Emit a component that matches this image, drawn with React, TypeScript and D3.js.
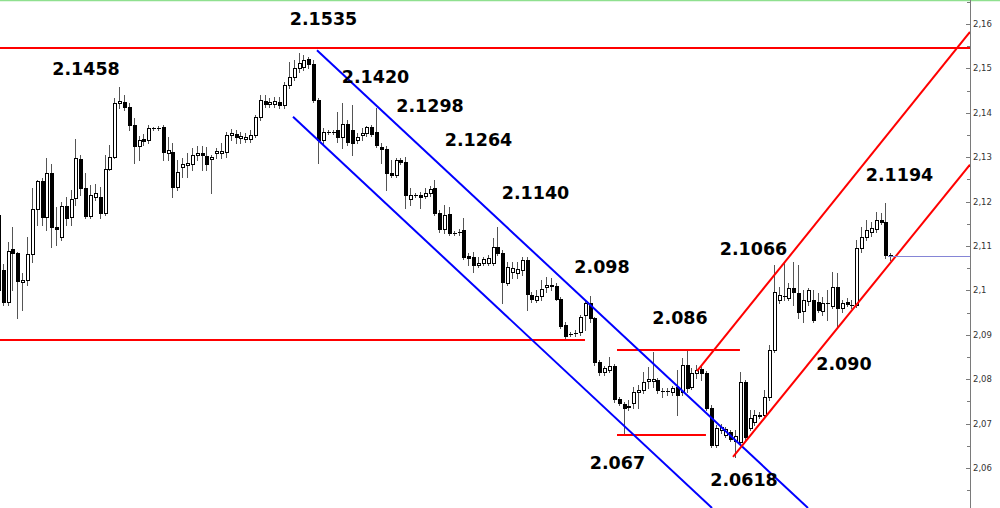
import React from "react";
import * as d3 from "d3";

// ---------- DATA (prices) ----------
const opens = [
  2.1170, 2.1046, 2.0974, 2.1093, 2.1084, 2.1019, 2.1023, 2.1082, 2.1183, 2.1246,
  2.1165, 2.1264, 2.1143, 2.1120, 2.1190, 2.1165, 2.1208, 2.1296, 2.1231, 2.1168,
  2.1210, 2.1210, 2.1174, 2.1273, 2.1300, 2.1422, 2.1424, 2.1413, 2.1372, 2.1325,
  2.1341, 2.1339, 2.1366, 2.1365, 2.1368, 2.1309, 2.1312, 2.1233, 2.1278, 2.1282,
  2.1285, 2.1305, 2.1309, 2.1303, 2.1296, 2.1309, 2.1309, 2.1312, 2.1350, 2.1352,
  2.1343, 2.1341, 2.1341, 2.1350, 2.1390, 2.1426, 2.1420, 2.1420, 2.1424, 2.1417,
  2.1463, 2.1481, 2.1501, 2.1503, 2.1521, 2.1510, 2.1429, 2.1339, 2.1357, 2.1356,
  2.1361, 2.1345, 2.1375, 2.1361, 2.1339, 2.1350, 2.1354, 2.1368, 2.1357, 2.1323,
  2.1318, 2.1264, 2.1260, 2.1294, 2.1289, 2.1206, 2.1215, 2.1215, 2.1213, 2.1219,
  2.1231, 2.1174, 2.1138, 2.1172, 2.1129, 2.1131, 2.1136, 2.1078, 2.1075, 2.1057,
  2.1062, 2.1062, 2.1062, 2.1098, 2.1084, 2.1017, 2.1041, 2.1039, 2.1046, 2.1068,
  2.0990, 2.0978, 2.0987, 2.1008, 2.1012, 2.1010, 2.0981, 2.0922, 2.0902, 2.0903,
  2.0906, 2.0945, 2.0972, 2.0938, 2.0839, 2.0816, 2.0821, 2.0830, 2.0756, 2.0744,
  2.0738, 2.0747, 2.0771, 2.0776, 2.0796, 2.0796, 2.0798, 2.0774, 2.0773, 2.0771,
  2.0783, 2.0771, 2.0832, 2.0783, 2.0814, 2.0823, 2.0814, 2.0735, 2.0652, 2.0686,
  2.0675, 2.0681, 2.0661, 2.0659, 2.0794, 2.0690, 2.0704, 2.0717, 2.0719, 2.0760,
  2.0866, 2.0978, 2.0987, 2.0983, 2.1005, 2.0994, 2.0954, 2.0976, 2.0978, 2.0974,
  2.0954, 2.0972, 2.0965, 2.1008, 2.0960, 2.0974, 2.0967, 2.0967, 2.1096, 2.1120,
  2.1132, 2.1138, 2.1159, 2.1154, 2.1080,
];
const highs = [
  2.1210, 2.1059, 2.1109, 2.1143, 2.1087, 2.1039, 2.1120, 2.1231, 2.1249, 2.1253,
  2.1298, 2.1285, 2.1188, 2.1199, 2.1210, 2.1226, 2.1341, 2.1305, 2.1264, 2.1237,
  2.1240, 2.1233, 2.1305, 2.1327, 2.1433, 2.1458, 2.1440, 2.1422, 2.1388, 2.1348,
  2.1352, 2.1372, 2.1368, 2.1370, 2.1372, 2.1345, 2.1332, 2.1294, 2.1298, 2.1309,
  2.1321, 2.1325, 2.1325, 2.1323, 2.1305, 2.1321, 2.1332, 2.1357, 2.1363, 2.1361,
  2.1357, 2.1354, 2.1361, 2.1395, 2.1440, 2.1440, 2.1433, 2.1436, 2.1436, 2.1469,
  2.1514, 2.1519, 2.1535, 2.1530, 2.1526, 2.1519, 2.1433, 2.1366, 2.1361, 2.1361,
  2.1402, 2.1422, 2.1384, 2.1417, 2.1354, 2.1366, 2.1370, 2.1372, 2.1411, 2.1332,
  2.1325, 2.1294, 2.1298, 2.1298, 2.1300, 2.1231, 2.1219, 2.1222, 2.1231, 2.1235,
  2.1249, 2.1181, 2.1192, 2.1188, 2.1134, 2.1138, 2.1163, 2.1084, 2.1087, 2.1075,
  2.1075, 2.1080, 2.1118, 2.1143, 2.1091, 2.1064, 2.1064, 2.1064, 2.1075, 2.1075,
  2.0996, 2.1001, 2.1023, 2.1030, 2.1028, 2.1017, 2.0985, 2.0929, 2.0906, 2.0911,
  2.0945, 2.0978, 2.0987, 2.0940, 2.0843, 2.0830, 2.0850, 2.0834, 2.0760, 2.0749,
  2.0753, 2.0783, 2.0787, 2.0816, 2.0827, 2.0861, 2.0803, 2.0780, 2.0780, 2.0785,
  2.0821, 2.0848, 2.0868, 2.0825, 2.0832, 2.0832, 2.0818, 2.0742, 2.0697, 2.0699,
  2.0692, 2.0686, 2.0686, 2.0816, 2.0798, 2.0731, 2.0731, 2.0726, 2.0776, 2.0877,
  2.1057, 2.1008, 2.1064, 2.1017, 2.1064, 2.1057, 2.1001, 2.1005, 2.1001, 2.0994,
  2.0985, 2.1001, 2.1041, 2.1039, 2.0978, 2.0983, 2.0978, 2.1114, 2.1143, 2.1159,
  2.1154, 2.1177, 2.1174, 2.1197, 2.1084,
];
const lows = [
  2.0967, 2.0967, 2.0967, 2.1001, 2.0938, 2.0956, 2.1012, 2.1064, 2.1147, 2.1147,
  2.1136, 2.1098, 2.1102, 2.1114, 2.1147, 2.1147, 2.1192, 2.1215, 2.1163, 2.1163,
  2.1204, 2.1163, 2.1170, 2.1271, 2.1298, 2.1411, 2.1406, 2.1361, 2.1287, 2.1294,
  2.1327, 2.1332, 2.1361, 2.1361, 2.1294, 2.1294, 2.1210, 2.1226, 2.1255, 2.1255,
  2.1271, 2.1294, 2.1271, 2.1271, 2.1219, 2.1298, 2.1298, 2.1300, 2.1339, 2.1332,
  2.1332, 2.1334, 2.1334, 2.1345, 2.1384, 2.1413, 2.1413, 2.1413, 2.1411, 2.1411,
  2.1456, 2.1474, 2.1492, 2.1496, 2.1501, 2.1424, 2.1287, 2.1327, 2.1352, 2.1352,
  2.1334, 2.1321, 2.1327, 2.1305, 2.1332, 2.1339, 2.1348, 2.1348, 2.1323, 2.1287,
  2.1226, 2.1255, 2.1255, 2.1285, 2.1186, 2.1192, 2.1210, 2.1186, 2.1208, 2.1213,
  2.1170, 2.1132, 2.1129, 2.1125, 2.1125, 2.1125, 2.1071, 2.1057, 2.1041, 2.1053,
  2.1057, 2.1057, 2.1057, 2.1080, 2.0972, 2.1012, 2.1028, 2.1028, 2.1035, 2.0956,
  2.0974, 2.0974, 2.0978, 2.0996, 2.1001, 2.0978, 2.0915, 2.0893, 2.0897, 2.0897,
  2.0900, 2.0911, 2.0929, 2.0832, 2.0809, 2.0809, 2.0816, 2.0749, 2.0742, 2.0679,
  2.0731, 2.0735, 2.0735, 2.0769, 2.0780, 2.0783, 2.0769, 2.0760, 2.0765, 2.0765,
  2.0719, 2.0765, 2.0771, 2.0778, 2.0803, 2.0798, 2.0731, 2.0647, 2.0647, 2.0679,
  2.0670, 2.0661, 2.0625, 2.0652, 2.0663, 2.0686, 2.0697, 2.0713, 2.0713, 2.0753,
  2.0861, 2.0972, 2.0978, 2.0978, 2.0967, 2.0938, 2.0929, 2.0967, 2.0929, 2.0951,
  2.0945, 2.0933, 2.0960, 2.0920, 2.0951, 2.0965, 2.0960, 2.0963, 2.1087, 2.1114,
  2.1123, 2.1132, 2.1150, 2.1073, 2.1068,
];
const closes = [
  2.1001, 2.0974, 2.1089, 2.1084, 2.1021, 2.1023, 2.1082, 2.1183, 2.1246, 2.1165,
  2.1264, 2.1143, 2.1138, 2.1190, 2.1163, 2.1206, 2.1298, 2.1231, 2.1168, 2.1215,
  2.1219, 2.1174, 2.1273, 2.1300, 2.1422, 2.1426, 2.1413, 2.1372, 2.1325, 2.1339,
  2.1336, 2.1366, 2.1365, 2.1366, 2.1312, 2.1316, 2.1233, 2.1267, 2.1285, 2.1287,
  2.1305, 2.1309, 2.1305, 2.1285, 2.1300, 2.1314, 2.1314, 2.1350, 2.1354, 2.1345,
  2.1348, 2.1345, 2.1350, 2.1390, 2.1429, 2.1420, 2.1424, 2.1426, 2.1417, 2.1463,
  2.1481, 2.1501, 2.1512, 2.1519, 2.1510, 2.1429, 2.1339, 2.1357, 2.1356, 2.1357,
  2.1345, 2.1375, 2.1334, 2.1332, 2.1345, 2.1354, 2.1368, 2.1352, 2.1327, 2.1318,
  2.1264, 2.1260, 2.1294, 2.1289, 2.1215, 2.1215, 2.1214, 2.1210, 2.1219, 2.1228,
  2.1174, 2.1138, 2.1170, 2.1129, 2.1130, 2.1132, 2.1075, 2.1073, 2.1057, 2.1062,
  2.1071, 2.1073, 2.1098, 2.1084, 2.1019, 2.1053, 2.1050, 2.1048, 2.1068, 2.0992,
  2.0981, 2.0987, 2.1003, 2.1012, 2.1011, 2.0981, 2.0920, 2.0897, 2.0901, 2.0904,
  2.0940, 2.0972, 2.0938, 2.0839, 2.0816, 2.0825, 2.0830, 2.0756, 2.0747, 2.0735,
  2.0740, 2.0771, 2.0776, 2.0794, 2.0800, 2.0800, 2.0776, 2.0773, 2.0774, 2.0780,
  2.0765, 2.0832, 2.0780, 2.0814, 2.0821, 2.0814, 2.0735, 2.0652, 2.0690, 2.0692,
  2.0688, 2.0666, 2.0672, 2.0794, 2.0670, 2.0713, 2.0719, 2.0719, 2.0760, 2.0866,
  2.0996, 2.0990, 2.0988, 2.1005, 2.0996, 2.0951, 2.0978, 2.1001, 2.0933, 2.0956,
  2.0972, 2.0971, 2.1008, 2.0960, 2.0972, 2.0969, 2.0968, 2.1096, 2.1120, 2.1136,
  2.1141, 2.1159, 2.1154, 2.1080, 2.1077,
];

const tickValues = [2.06, 2.07, 2.08, 2.09, 2.1, 2.11, 2.12, 2.13, 2.14, 2.15, 2.16];
const tickLabels = ["2,06", "2,07", "2,08", "2,09", "2,1", "2,11", "2,12", "2,13", "2,14", "2,15", "2,16"];
const minorTickValues = [2.055, 2.065, 2.075, 2.085, 2.095, 2.105, 2.115, 2.125, 2.135, 2.145, 2.155, 2.165];

// annotation labels anchored at (bar index, price of text baseline)
const annotationTexts = ["2.1535", "2.1458", "2.1420", "2.1298", "2.1264", "2.1140", "2.098", "2.086", "2.1066", "2.1194", "2.090", "2.067", "2.0618"];
const annotationIdx = [67.14, 18.18, 77.87, 89.1, 99.1, 110.86, 124.57, 140.65, 155.8, 185.91, 174.46, 127.76, 153.85];
const annotationPrice = [2.1598, 2.1485, 2.1467, 2.1402, 2.1325, 2.1206, 2.1039, 2.0924, 2.108, 2.1246, 2.0821, 2.0598, 2.0559];

// trend lines: [startIdx, startPrice, endIdx, endPrice]
const blueChannel = [
  [65.8, 2.1541, 167.04, 2.051],
  [60.86, 2.1391, 147.25, 2.051],
];
const redChannel = [
  [144.15, 2.0818, 200.44, 2.1582],
  [151.58, 2.0625, 200.44, 2.1283],
];
// horizontal levels: price, fromIdx (null = left edge), toIdx (null = axis)
const redLevelPrices = [2.1546, 2.0888, 2.0866, 2.0675];
const redLevelFrom = [null, null, 127.66, 127.66];
const redLevelTo = [null, 121.06, 153.01, 146.0];
const lastPrice = 2.1078;
const lastPriceFrom = 183.53;

export default function App() {
  const W = 1000;
  const H = 508;
  const AXIS_X = 970;
  const N = opens.length;
  const x = d3.scaleLinear().domain([0, N - 1]).range([-2.15, 890.25]);
  const y = d3.scaleLinear().domain([2.06, 2.16]).range([468, 24]);

  const candles = opens.map((o, i) => {
    const c = closes[i];
    const h = highs[i];
    const l = lows[i];
    const px = Math.round(x(i));
    const top = Math.round(y(Math.max(o, c)));
    const bot = Math.round(y(Math.min(o, c)));
    const bull = c >= o;
    return (
      <g key={i}>
        <line
          x1={px + 0.5}
          x2={px + 0.5}
          y1={Math.round(y(h))}
          y2={Math.round(y(l)) + 1}
          stroke="#555"
          strokeWidth={1}
        />
        {bot - top >= 1 ? (
          <rect
            x={px - 0.5}
            y={top + 0.5}
            width={3}
            height={bot - top}
            fill={bull ? "#fff" : "#000"}
            stroke="#000"
            strokeWidth={1}
          />
        ) : (
          <line x1={px - 1} x2={px + 3} y1={top + 0.5} y2={top + 0.5} stroke="#000" strokeWidth={1} />
        )}
      </g>
    );
  });

  const line = (seg: number[], color: string, key: string) => (
    <line
      key={key}
      x1={x(seg[0])}
      y1={y(seg[1])}
      x2={x(seg[2])}
      y2={y(seg[3])}
      stroke={color}
      strokeWidth={2}
    />
  );

  return (
    <svg
      width={W}
      height={H}
      style={{ position: "absolute", left: 0, top: 0, background: "#fff", display: "block" }}
      fontFamily="'DejaVu Sans', Verdana, sans-serif"
    >
      <rect x={0} y={0} width={W} height={H} fill="#fff" />
      <defs>
        <clipPath id="plot">
          <rect x={0} y={0} width={AXIS_X} height={H} />
        </clipPath>
      </defs>

      <g>{candles}</g>

      <g clipPath="url(#plot)">
        {redLevelPrices.map((p, i) => {
          const f = redLevelFrom[i];
          const t = redLevelTo[i];
          const yy = Math.round(y(p));
          return (
            <line
              key={"lv" + i}
              x1={f === null ? 0 : x(f)}
              x2={t === null ? AXIS_X : x(t)}
              y1={yy}
              y2={yy}
              stroke="#ff0000"
              strokeWidth={2}
            />
          );
        })}
        {blueChannel.map((s, i) => line(s, "#0000ff", "b" + i))}
        {redChannel.map((s, i) => line(s, "#ff0000", "r" + i))}
        <line
          x1={x(lastPriceFrom)}
          x2={AXIS_X}
          y1={Math.round(y(lastPrice)) + 0.5}
          y2={Math.round(y(lastPrice)) + 0.5}
          stroke="#8585d6"
          strokeWidth={1}
        />
      </g>

      {/* top green border */}
      <line x1={0} x2={W} y1={0.5} y2={0.5} stroke="#8fe08f" strokeWidth={1.5} />

      {/* price axis */}
      <line x1={AXIS_X + 0.5} x2={AXIS_X + 0.5} y1={0} y2={H} stroke="#7a7a7a" strokeWidth={1} />
      {minorTickValues.map((v) => (
        <line
          key={"m" + v}
          x1={AXIS_X - 3}
          x2={AXIS_X}
          y1={Math.round(y(v)) + 0.5}
          y2={Math.round(y(v)) + 0.5}
          stroke="#7a7a7a"
        />
      ))}
      {tickValues.map((v, i) => (
        <g key={"t" + v}>
          <line
            x1={AXIS_X - 4}
            x2={AXIS_X + 1}
            y1={Math.round(y(v)) + 0.5}
            y2={Math.round(y(v)) + 0.5}
            stroke="#7a7a7a"
          />
          <text
            x={AXIS_X + 3}
            y={y(v) + 3}
            fontSize={8.5}
            fill="#333"
            fontFamily="'DejaVu Sans', Tahoma, sans-serif"
          >
            {tickLabels[i]}
          </text>
        </g>
      ))}

      {/* annotations */}
      {annotationTexts.map((t, i) => (
        <text
          key={"a" + i}
          x={x(annotationIdx[i])}
          y={y(annotationPrice[i])}
          textAnchor="middle"
          fontSize={17.5}
          fontWeight="bold"
          fill="#000"
        >
          {t}
        </text>
      ))}
    </svg>
  );
}
